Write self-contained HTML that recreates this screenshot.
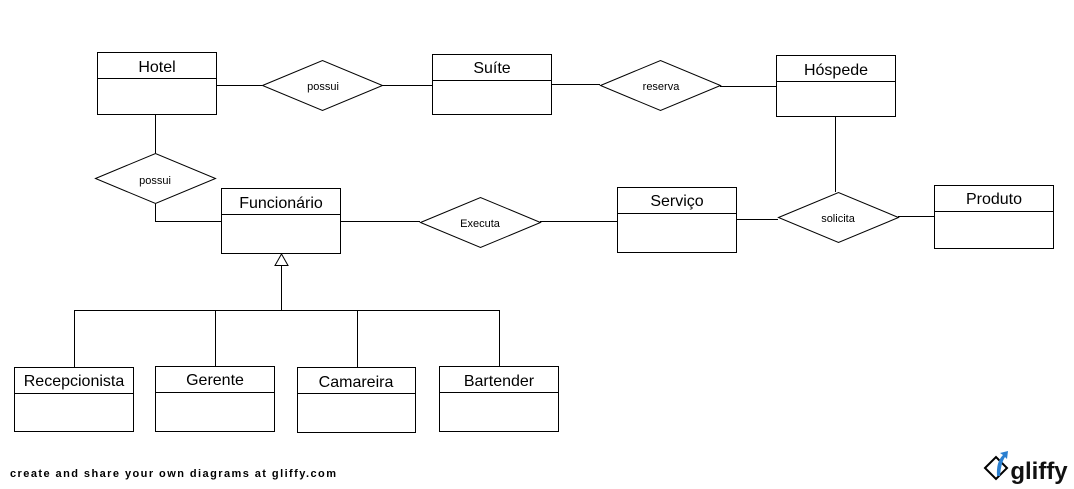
<!DOCTYPE html>
<html><head><style>
body{margin:0;background:#fff;}
svg{display:block;font-family:"Liberation Sans",sans-serif;}
</style></head><body>
<svg width="1074" height="489" xmlns="http://www.w3.org/2000/svg">
<g fill="#fff" stroke="#000" stroke-width="1">
<rect x="97.5" y="52.5" width="119" height="62"/><line x1="97" y1="78.5" x2="217" y2="78.5"/>
<rect x="432.5" y="54.5" width="119" height="60"/><line x1="432" y1="80.5" x2="552" y2="80.5"/>
<rect x="776.5" y="55.5" width="119" height="61"/><line x1="776" y1="81.5" x2="896" y2="81.5"/>
<rect x="221.5" y="188.5" width="119" height="65"/><line x1="221" y1="214.5" x2="341" y2="214.5"/>
<rect x="617.5" y="187.5" width="119" height="65"/><line x1="617" y1="213.5" x2="737" y2="213.5"/>
<rect x="934.5" y="185.5" width="119" height="63"/><line x1="934" y1="211.5" x2="1054" y2="211.5"/>
<rect x="14.5" y="367.5" width="119" height="64"/><line x1="14" y1="393.5" x2="134" y2="393.5"/>
<rect x="155.5" y="366.5" width="119" height="65"/><line x1="155" y1="392.5" x2="275" y2="392.5"/>
<rect x="297.5" y="367.5" width="118" height="65"/><line x1="297" y1="393.5" x2="416" y2="393.5"/>
<rect x="439.5" y="366.5" width="119" height="65"/><line x1="439" y1="392.5" x2="559" y2="392.5"/>
<polygon points="262.5,85.5 322.5,60.5 382.5,85.5 322.5,110.5"/>
<polygon points="600.5,85.5 660.5,60.5 720.5,85.5 660.5,110.5"/>
<polygon points="95.5,178.5 155.5,153.5 215.5,178.5 155.5,203.5"/>
<polygon points="420.5,222.5 480.5,197.5 540.5,222.5 480.5,247.5"/>
<polygon points="778.5,217.5 838.5,192.5 898.5,217.5 838.5,242.5"/>
<polyline fill="none" points="217,85.5 262,85.5"/>
<polyline fill="none" points="382,85.5 432,85.5"/>
<polyline fill="none" points="552,84.5 600,84.5"/>
<polyline fill="none" points="720,86.5 776,86.5"/>
<polyline fill="none" points="155.5,115 155.5,153"/>
<polyline fill="none" points="155.5,204 155.5,221.5 221,221.5"/>
<polyline fill="none" points="341,221.5 420,221.5"/>
<polyline fill="none" points="540,221.5 617,221.5"/>
<polyline fill="none" points="737,219.5 778,219.5"/>
<polyline fill="none" points="835.5,117 835.5,192"/>
<polyline fill="none" points="898,216.5 934,216.5"/>
<polygon points="281.5,254 275,265.5 288,265.5"/>
<polyline fill="none" points="281.5,265.5 281.5,310.5"/>
<polyline fill="none" points="74.5,367 74.5,310.5 499.5,310.5 499.5,366"/>
<polyline fill="none" points="215.5,310.5 215.5,366"/>
<polyline fill="none" points="357.5,310.5 357.5,367"/>
</g>
<g font-size="16" text-anchor="middle" fill="#000">
<text x="157" y="72">Hotel</text>
<text x="492" y="73">Suíte</text>
<text x="836" y="75">Hóspede</text>
<text x="281" y="208">Funcionário</text>
<text x="677" y="206">Serviço</text>
<text x="994" y="204">Produto</text>
<text x="74" y="386">Recepcionista</text>
<text x="215" y="385">Gerente</text>
<text x="356" y="387">Camareira</text>
<text x="499" y="386">Bartender</text>
</g>
<g font-size="11" text-anchor="middle" fill="#000">
<text x="323" y="90">possui</text>
<text x="661" y="90">reserva</text>
<text x="155" y="184">possui</text>
<text x="480" y="227">Executa</text>
<text x="838" y="222">solicita</text>
</g>
<text x="10" y="477" font-size="11" font-weight="bold" fill="#000" textLength="326" lengthAdjust="spacing">create and share your own diagrams at gliffy.com</text>
<polygon points="985,468 996,457 1007,468 996,479" fill="#fff" stroke="#000" stroke-width="2"/>
<path d="M997,476 Q996,462 1003,455 L1000,453 L1008,451 L1007,459 L1005,457 Q1001,463 1000,476Z" fill="#2a7fd0"/>
<text x="1039" y="479" font-size="24" font-weight="bold" text-anchor="middle" fill="#111">gliffy</text>
</svg>
</body></html>
